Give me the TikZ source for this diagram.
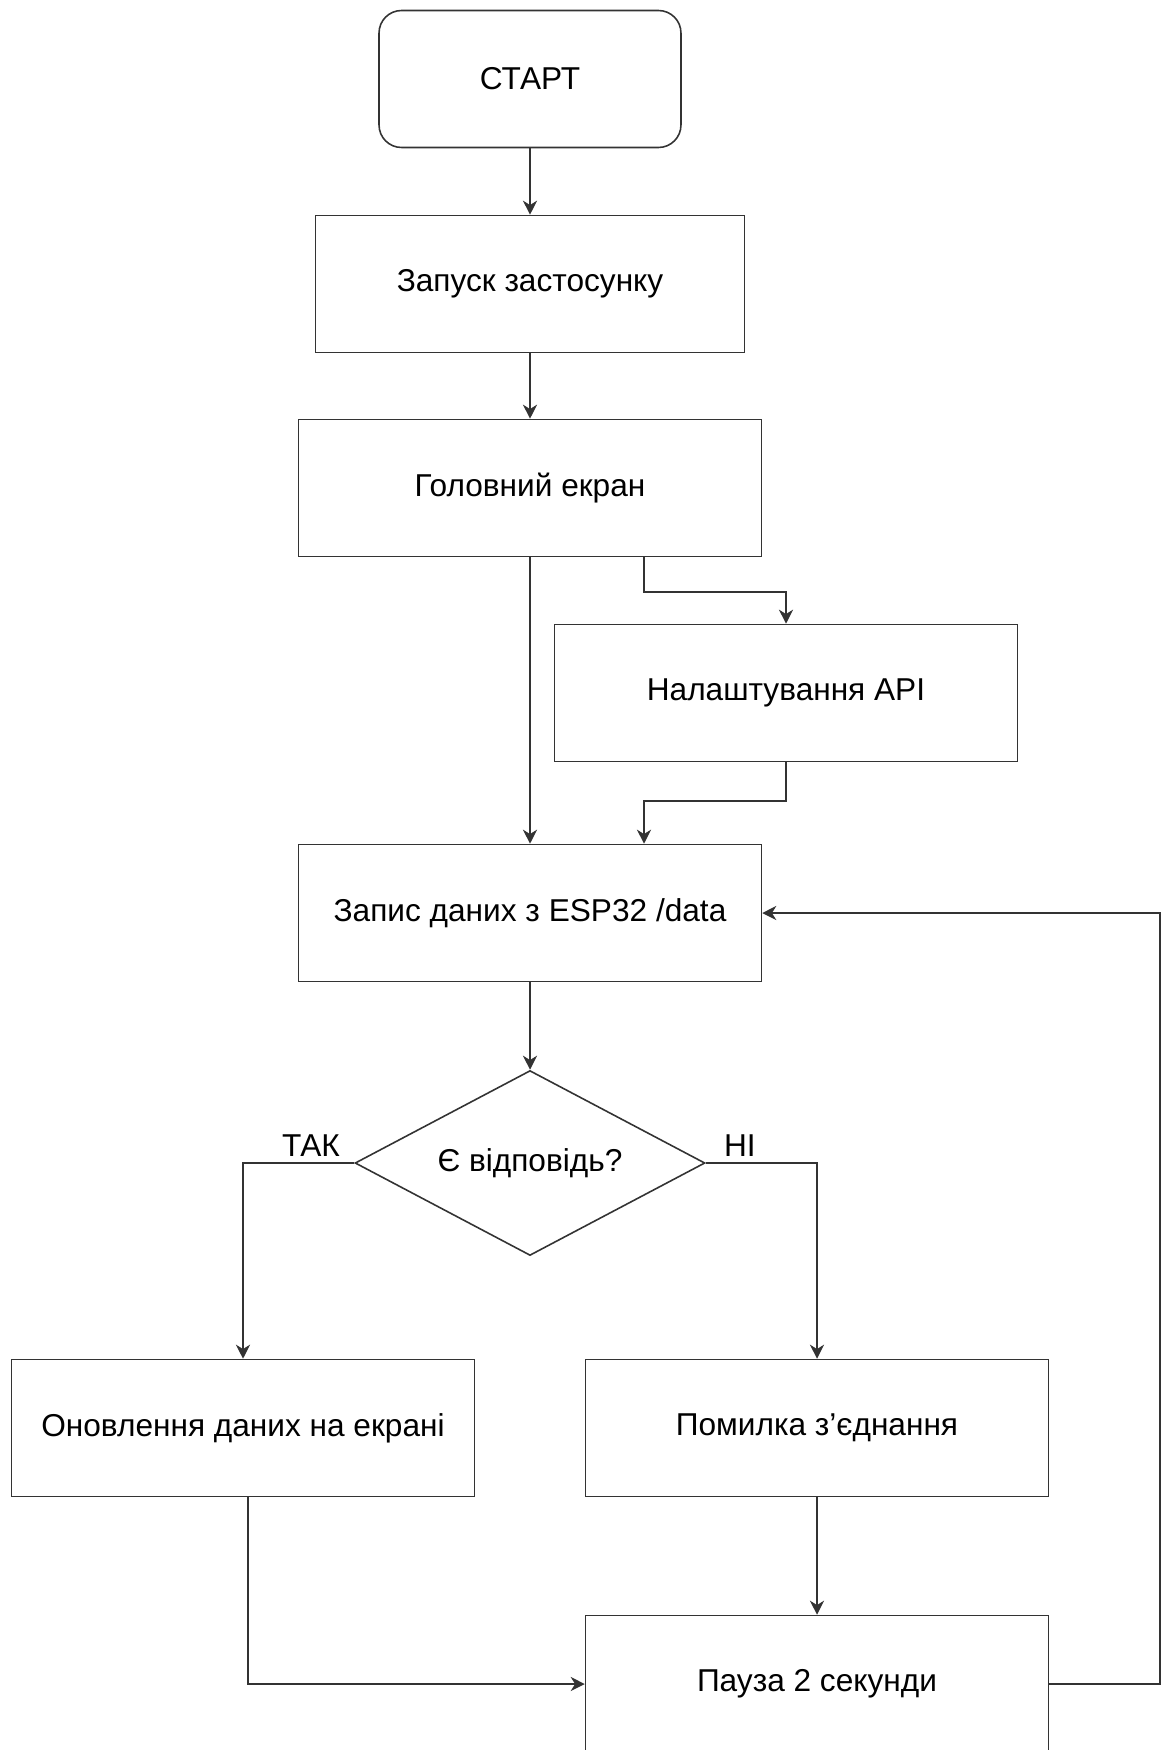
\documentclass[tikz,border=0pt]{standalone}
\usepackage{fontspec}
\setmainfont{Liberation Sans}
\usetikzlibrary{arrows.meta,shapes.geometric}
\definecolor{linecolor}{HTML}{333333}

\tikzset{
  block/.style={draw=linecolor, line width=0.9pt, minimum width=9.26cm, minimum height=2.74cm,
    inner sep=0pt, font=\fontsize{18}{21}\selectfont},
  startblock/.style={block, rounded corners=0.45cm, minimum width=6.04cm},
  decision/.style={draw=linecolor, line width=0.9pt, diamond, aspect=1.9, minimum width=7cm,
    minimum height=3.7cm, inner sep=0pt, font=\fontsize{18}{21}\selectfont},
  flow/.style={draw=linecolor, line width=0.9pt, -{Stealth[length=8pt,width=8pt,inset=2.5pt]}},
  answer/.style={font=\fontsize{18}{21}\selectfont, inner sep=0pt}
}

\begin{document}
\begin{tikzpicture}[x=0.02cm, y=-0.02cm]
  \useasboundingbox (0,0) rectangle (1163,1750);
  % Blocks
  \node[startblock] (start) at (530,79) {СТАРТ};
  \node[block, minimum width=8.58cm] (launch) at (530,284) {Запуск застосунку};
  \node[block] (main) at (530,488) {Головний екран};
  \node[block] (api) at (786,693) {Налаштування API};
  \node[block] (data) at (530,913) {Запис даних з ESP32 /data};
  \node[decision] (check) at (530,1163) {Є відповідь?};
  \node[block] (update) at (243,1428) {Оновлення даних на екрані};
  \node[block] (error) at (817,1428) {Помилка з'єднання};
  \node[block] (pause) at (817,1684) {Пауза 2 секунди};
  % Answer labels
  \node[answer, anchor=south east] (yes) at ([xshift=-0.28cm, yshift=0.12cm]check.west) {ТАК};
  \node[answer, anchor=south west] (no) at ([xshift=0.36cm, yshift=0.12cm]check.east) {НІ};
  % Bend points
  \coordinate (toapi) at (644,592);
  \coordinate (fromapi) at (644,801);
  \coordinate (back) at (248,1496);
  \coordinate (loop) at (1160,913);
  % Connectors
  \draw[flow] (start) -- (launch);
  \draw[flow] (launch) -- (main);
  \draw[flow] (main) -- (data);
  \draw[flow] (main.south -| toapi) -- (toapi) -| (api.north);
  \draw[flow] (api.south) |- (fromapi) -- (data.north -| fromapi);
  \draw[flow] (data) -- (check);
  \draw[flow] (check.west) -| (update.north);
  \draw[flow] (check.east) -| (error.north);
  \draw[flow] (error) -- (pause);
  \draw[flow] (update.south -| back) |- (pause.west);
  \draw[flow] (pause.east) -| (loop) -- (data.east);
\end{tikzpicture}
\end{document}
